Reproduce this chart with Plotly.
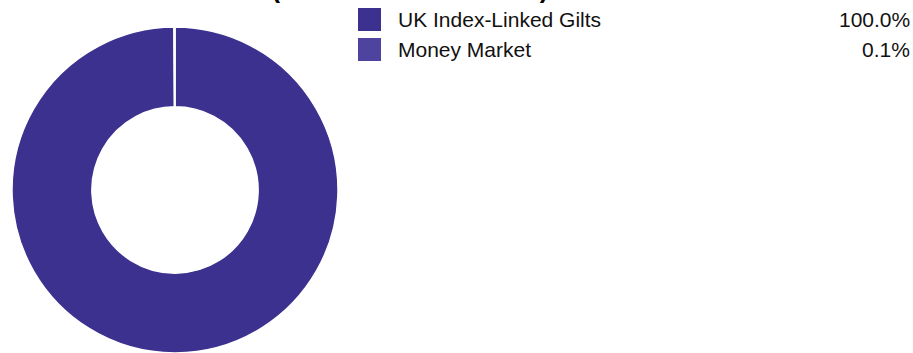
import plotly.graph_objects as go

# Holdings breakdown
labels = ["UK Index-Linked Gilts", "Money Market"]
weights = [100.0, 0.1]
colors = ["#3C318F", "#4E439E"]
title_text = "Asset Allocation (% of Total Net Assets)"

W, H = 913, 353
FONT = "Liberation Sans, Arial, sans-serif"

def px_x(x):
    return x / W

def px_y(y):
    return 1 - y / H

fig = go.Figure()
fig.add_trace(go.Pie(
    labels=labels,
    values=weights,
    marker=dict(colors=colors, line=dict(color="white", width=1.5)),
    hole=0.51,
    sort=False,
    direction="clockwise",
    rotation=0,
    textinfo="none",
    showlegend=False,
    domain=dict(x=[px_x(11), px_x(339)], y=[0, px_y(27)]),
))

annotations = [dict(
    text=f"<b>{title_text}</b>", x=px_x(550), y=px_y(5.5), xref="paper", yref="paper",
    xanchor="right", yanchor="bottom", showarrow=False,
    font=dict(family=FONT, size=25.7, color="#000000"),
)]
shapes = []
row_top, row_step, box = 8, 30, 23
for i, (lab, val, col) in enumerate(zip(labels, weights, colors)):
    top = row_top + i * row_step
    cy = top + box / 2
    shapes.append(dict(type="rect", xref="paper", yref="paper",
                       x0=px_x(358), x1=px_x(358 + box), y0=px_y(top + box), y1=px_y(top),
                       fillcolor=col, line=dict(width=0)))
    annotations.append(dict(text=lab, x=px_x(396), y=px_y(cy), xref="paper", yref="paper",
                            xanchor="left", yanchor="middle", showarrow=False,
                            font=dict(family=FONT, size=21, color="#111111")))
    annotations.append(dict(text=f"{val:.1f}%", x=px_x(912), y=px_y(cy), xref="paper", yref="paper",
                            xanchor="right", yanchor="middle", showarrow=False,
                            font=dict(family=FONT, size=21, color="#111111")))

fig.update_layout(
    width=W, height=H,
    margin=dict(l=0, r=0, t=0, b=0),
    paper_bgcolor="white", plot_bgcolor="white",
    annotations=annotations, shapes=shapes,
)
fig.write_html("out.html")
